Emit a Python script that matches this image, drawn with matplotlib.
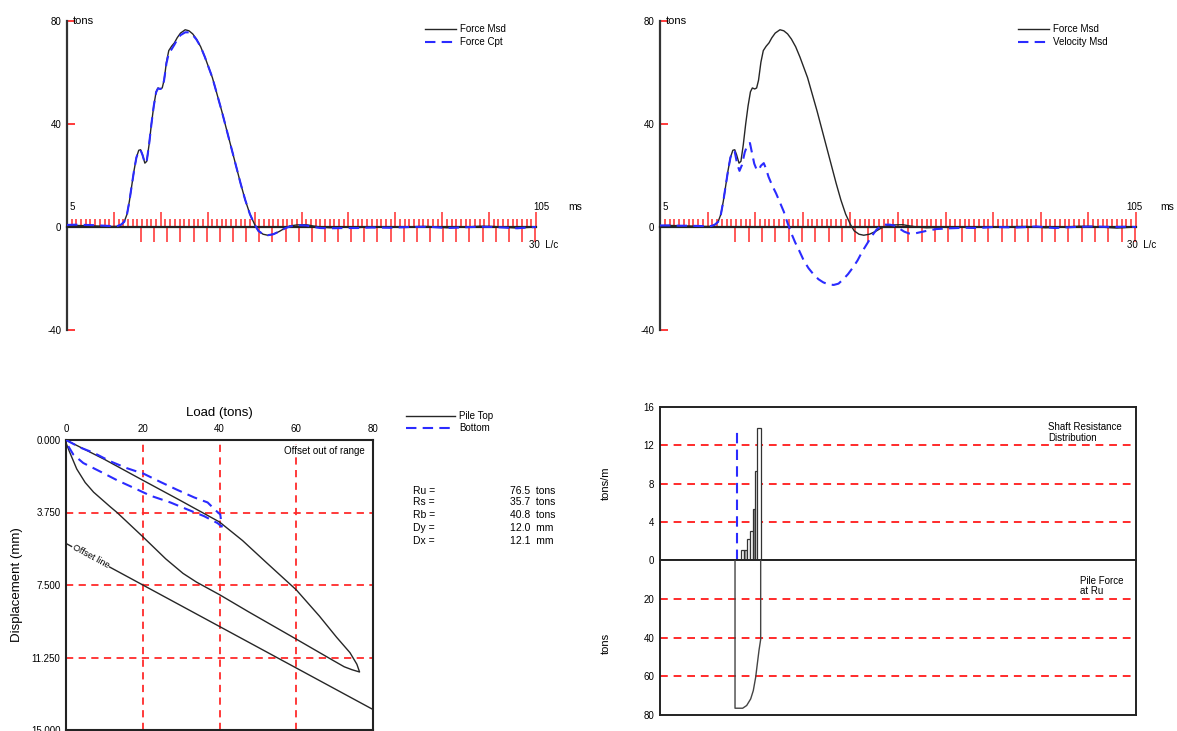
import matplotlib
matplotlib.use("Agg")
import numpy as np
import matplotlib.pyplot as plt
from matplotlib.lines import Line2D
from matplotlib.ticker import MultipleLocator, FixedLocator

plt.rcParams['font.family'] = ['Liberation Sans', 'DejaVu Sans']
plt.rcParams['font.size'] = 7
plt.rcParams['hatch.linewidth'] = 0.5
plt.rcParams['axes.unicode_minus'] = False

RED = '#ff2b2b'
BLUE = '#2b2bff'
BLACK = '#262626'
DASH = (0, (5, 3))

# ---- wave traces (ms, tons)
t_msd = [5, 7, 9, 11, 13, 15, 15.8, 16.5, 17.2, 17.8, 18.3, 18.8, 19.3, 19.8, 20.3, 20.7,
         21.1, 21.6, 22.0, 22.5, 23.0, 23.5, 24.0, 24.4, 24.9, 25.3, 25.7, 26.2, 26.7, 27.3,
         27.9, 28.5, 29.2, 30.2, 31.0, 31.8, 32.6, 33.5, 34.4, 35.2, 36.0, 37.0, 38.0, 39.0,
         40.0, 41.0, 42.0, 43.0, 44.0, 45.0, 45.8, 46.8, 47.8, 49.0, 50.2, 51.4, 52.5, 54.0,
         56.0, 57.5, 59.0, 61, 64, 67, 70, 74, 78, 82, 86, 90, 93, 96, 99, 101, 103, 105]
force_msd = [0.5, 0.6, 0.5, 0.4, 0.3, 0.2, 0.3, 0.8, 2, 5, 10, 16, 22, 27, 29.8, 30,
             28, 24.8, 25.5, 32, 40, 47, 52.5, 54, 53.6, 54, 57, 64, 68.5, 70.2,
             71.5, 73.5, 75.3, 76.6, 76.2, 75, 73, 70, 66, 62, 58, 51.5, 45, 38,
             31, 24, 17, 10.5, 5, 1, -1.5, -2.8, -3.2, -2.8, -1.8, -0.5, 0.4, 0.8,
             0.9, 0.4, 0, -0.3, -0.1, -0.2, 0, -0.1, 0.1, 0.2, -0.3, 0, 0.3, 0.2, -0.2, -0.4, -0.2, 0]
force_cpt = [0.8, 0.9, 0.8, 0.7, 0.5, 0.3, 0.4, 0.9, 2, 5, 10, 16, 22, 27, 29.6, 29.8,
             28, 24.8, 25.6, 32, 40, 47, 52.3, 53.8, 53.6, 54, 57, 63.5, 67.5, 69,
             70.8, 72.8, 74.5, 75.6, 75.6, 74.6, 72.8, 70, 66, 62, 58, 51.5, 45, 38,
             31, 24, 17, 10.5, 5, 1, -1.5, -2.8, -3.2, -2.8, -1.8, -0.6, 0.2, 0.7,
             0.6, 0, -0.4, -0.5, -0.4, -0.4, -0.2, -0.3, 0, 0.1, -0.4, -0.1, 0.1, 0, -0.3, -0.5, -0.2, 0]

t_vel = [5, 7, 9, 11, 13, 15, 15.8, 16.5, 17.2, 17.8, 18.3, 18.8, 19.3, 19.8, 20.3, 20.7,
         21.2, 21.7, 22.2, 22.8, 23.4, 23.9, 24.3, 24.8, 25.3, 25.7, 26.2, 26.8, 27.3, 27.8,
         28.6, 29.4, 30.2, 31.0, 31.8, 32.6, 33.4, 34.2, 35.2, 36.2, 37.3, 38.3, 39.3, 40.4,
         41.5, 42.5, 43.5, 44.5, 45.5, 46.5, 47.5, 48.5, 49.5, 50.5, 51.4, 52.3, 53.3, 54.3,
         55.3, 56.3, 57.3, 58.3, 59.5, 61, 63, 66, 69, 72, 75, 80, 84, 88, 92, 96, 100, 103, 105]
velocity_msd = [0.6, 0.6, 0.5, 0.5, 0.4, 0.3, 0.4, 0.9, 2, 5, 10, 16, 22, 27, 29.5, 29.3,
                24.5, 21.8, 24, 29, 32, 32.6, 29, 24.6, 22.3, 22, 23.8, 24.8, 22.5, 19.5,
                16, 13, 9.5, 6, 1.5, -2.5, -6, -9, -13, -16, -18.5, -20.3, -21.5, -22.3,
                -22.5, -22, -20.3, -18.3, -15.8, -13, -9.5, -6.5, -3.5, -1, 0.4, 0.9, 0.9, 0.5,
                -0.6, -1.8, -2.5, -2.6, -2.1, -1.5, -0.8, -0.5, -0.3, -0.4, 0, -0.2, 0.2, -0.4,
                0, 0.2, 0, 0.1, 0]

LC_START = 20.8   # ms at 0 L/c
LC_MS = 2.8       # ms per L/c
lc_ticks = list(range(0, 31))

# ---- simulated static test (tons, mm)
top_load = [0, 5, 10, 20, 30, 40, 46, 52, 60, 66, 70.5, 74, 75.8, 76.5, 74.5, 72.5, 69.5,
            60, 47.6, 40, 34, 30.5, 26, 20, 13.3, 11.5, 7.2, 5, 2.8, 1, 0]
top_disp = [0, 0.5, 1.0, 2.08, 3.15, 4.24, 5.2, 6.3, 7.75, 9.1, 10.2, 11.0, 11.6, 12.0, 11.88,
            11.73, 11.39, 10.3, 8.89, 8.0, 7.35, 6.9, 6.15, 5.0, 3.75, 3.45, 2.7, 2.2, 1.5,
            0.65, 0.15]
bot_load = [0, 3.7, 7.2, 11.5, 15.9, 20.3, 24.6, 29, 33.4, 36.9, 39, 40.2, 40.6, 39.5, 36,
            31.6, 27.2, 22, 17.6, 13.3, 8.9, 4.5, 1.9, 0]
bot_disp = [0, 0.39, 0.66, 1.1, 1.46, 1.75, 2.17, 2.58, 2.97, 3.23, 3.64, 3.85, 4.48, 4.3,
            3.94, 3.59, 3.23, 2.88, 2.47, 2.08, 1.63, 1.19, 0.75, 0.12]
offset_load = [0, 80]
offset_disp = [5.35, 13.94]

result_names = ['Ru =', 'Rs =', 'Rb =', 'Dy =', 'Dx =']
result_values = ['76.5  tons', '35.7  tons', '40.8  tons', '12.0  mm', '12.1  mm']

# ---- shaft resistance / pile force along pile
seg_edges = [15.76, 17.02, 17.72, 18.21, 18.91, 19.47, 20.03, 20.45, 21.15]
shaft_res = [0, 1.07, 1.07, 2.2, 3.0, 5.3, 9.3, 13.85]
force_depth = [15.76, 15.76, 17.37, 18.21, 19.05, 19.6, 20.1, 20.45, 20.8, 21.15, 21.15]
pile_force = [0, 76.5, 76.5, 75.1, 71.7, 67.4, 60.5, 53.5, 46.6, 41.0, 0]
toe_depth = 16.24
toe_top = 13.5

W, H = 1177, 731
fig = plt.figure(figsize=(W / 100, H / 100), dpi=100)


def rect(left, top, right, bottom):
    # pixel box -> figure fraction
    return [left / W, 1 - bottom / H, (right - left) / W, (bottom - top) / H]


def wave_axes(box, lines, x105, xms, xlc):
    ax = fig.add_axes(box)
    ax.set_xlim(5, 105)
    ax.set_ylim(-40, 80)
    for s in ['top', 'right']:
        ax.spines[s].set_visible(False)
    ax.spines['left'].set_linewidth(1.6)
    ax.spines['left'].set_color('#333333')
    ax.spines['bottom'].set_position(('data', 0))
    ax.spines['bottom'].set_linewidth(1.6)
    ax.spines['bottom'].set_color('#222222')
    ax.set_yticks([-40, 0, 40, 80])
    ax.tick_params(axis='y', direction='in', color=RED, length=6, width=1.3, labelsize=7, pad=4)
    ax.xaxis.set_major_locator(FixedLocator(range(15, 106, 10)))
    ax.xaxis.set_minor_locator(MultipleLocator(1))
    ax.tick_params(axis='x', which='major', direction='in', color=RED, length=11, width=1.1,
                   labelbottom=False)
    ax.tick_params(axis='x', which='minor', direction='in', color=RED, length=5.5, width=1.1)
    sec = ax.secondary_xaxis(1 / 3, functions=(lambda t: (np.asarray(t) - LC_START) / LC_MS,
                                               lambda n: np.asarray(n) * LC_MS + LC_START))
    sec.set_xticks(lc_ticks)
    sec.tick_params(direction='out', color=RED, length=10.5, width=1.1, labelbottom=False)
    sec.spines['bottom'].set_visible(False)

    ax.text(6.2, 80, 'tons', fontsize=8, va='center', ha='left')
    ax.text(5.6, 6, '5', fontsize=7, va='bottom', ha='left')
    ax.text(x105, 6, '105', fontsize=7, va='bottom', ha='center', clip_on=False)
    ax.text(xms, 6, 'ms', fontsize=7.5, va='bottom', ha='center', clip_on=False)
    ax.text(xlc, -7, '30  L/c', fontsize=7, va='center', ha='left', clip_on=False)

    for (t, v, style) in lines:
        if style == 'solid':
            ax.plot(t, v, color=BLACK, lw=1.0, zorder=3)
        else:
            ax.plot(t, v, color=BLUE, lw=1.5, ls=DASH, zorder=4)
    handles = [Line2D([], [], color=BLACK, lw=1.0),
               Line2D([], [], color=BLUE, lw=1.5, ls=DASH)]
    return ax, handles


# top left: force measured vs computed
ax1, h1 = wave_axes(rect(67, 21, 536, 330),
                    [(t_msd, force_msd, 'solid'), (t_msd, force_cpt, 'dash')],
                    106.1, 113.3, 103.6)
fig.legend(h1, ['Force Msd', 'Force Cpt'], loc='upper left',
           bbox_to_anchor=(425 / W, 1 - 24 / H), frameon=False, fontsize=7,
           handlelength=3.2, handletextpad=0.4, labelspacing=0.35, borderpad=0, borderaxespad=0)

# top right: force vs velocity
ax2, h2 = wave_axes(rect(660, 21, 1136, 330),
                    [(t_msd, force_msd, 'solid'), (t_vel, velocity_msd, 'dash')],
                    104.6, 111.6, 103.2)
fig.legend(h2, ['Force Msd', 'Velocity Msd'], loc='upper left',
           bbox_to_anchor=(1018 / W, 1 - 24 / H), frameon=False, fontsize=7,
           handlelength=3.2, handletextpad=0.4, labelspacing=0.35, borderpad=0, borderaxespad=0)

# bottom left: load - displacement
ax3 = fig.add_axes(rect(66, 440, 373, 730))
ax3.set_xlim(0, 80)
ax3.set_ylim(15, 0)
ax3.set_xticks([0, 20, 40, 60, 80])
ax3.set_yticks([0, 3.75, 7.5, 11.25, 15])
ax3.set_yticklabels(['%.3f' % v for v in [0, 3.75, 7.5, 11.25, 15]])
ax3.xaxis.tick_top()
ax3.xaxis.set_label_position('top')
ax3.tick_params(length=0, labelsize=7, pad=4)
ax3.set_xlabel('Load (tons)', fontsize=9.5, labelpad=6)
ax3.set_ylabel('Displacement (mm)', fontsize=9.5, labelpad=6)
for s in ax3.spines.values():
    s.set_linewidth(1.5)
    s.set_color('#222222')
ax3.grid(True, color=RED, ls=(0, (4, 3)), lw=1.3)
ax3.set_axisbelow(True)
ax3.plot(top_load, top_disp, color=BLACK, lw=1.0, zorder=3)
ax3.plot(bot_load, bot_disp, color=BLUE, lw=1.5, ls=DASH, zorder=4)
ax3.plot(offset_load, offset_disp, color=BLACK, lw=1.0, zorder=3)
ax3.text(6.5, 6.0, 'Offset line', fontsize=6.5, rotation=-28.4, rotation_mode='anchor',
         ha='center', va='center', zorder=5,
         bbox=dict(facecolor='white', edgecolor='none', pad=0.5))
ax3.text(77.8, 0.55, 'Offset out of range', fontsize=7, ha='right', va='center', zorder=5,
         bbox=dict(facecolor='white', edgecolor='none', pad=0.5))
h3 = [Line2D([], [], color=BLACK, lw=1.0), Line2D([], [], color=BLUE, lw=1.5, ls=DASH)]
fig.legend(h3, ['Pile Top', 'Bottom'], loc='upper left',
           bbox_to_anchor=(406 / W, 1 - 411 / H), frameon=False, fontsize=7,
           handlelength=5.0, handletextpad=0.5, labelspacing=0.2, borderpad=0, borderaxespad=0)

row_y = [491, 502, 515, 528, 541]
for name, val, y in zip(result_names, result_values, row_y):
    fig.text(413 / W, 1 - y / H, name, fontsize=7.5, va='center', ha='left')
    fig.text(510 / W, 1 - y / H, val, fontsize=7.5, va='center', ha='left')

# bottom right: shaft resistance and pile force
ax4 = fig.add_axes(rect(660, 407, 1136, 560))
ax5 = fig.add_axes(rect(660, 560, 1136, 715))
for a in (ax4, ax5):
    a.set_xlim(0, 100)
    a.set_xticks([])
    for s in a.spines.values():
        s.set_linewidth(1.4)
        s.set_color('#222222')
    a.tick_params(length=0, labelsize=7, pad=4)
ax4.set_ylim(0, 16)
ax4.set_yticks([0, 4, 8, 12, 16])
ax5.set_ylim(80, 0)
ax5.set_yticks([20, 40, 60, 80])
for y in [4, 8, 12]:
    ax4.axhline(y, color=RED, ls=(0, (4, 3)), lw=1.4, zorder=1)
for y in [20, 40, 60]:
    ax5.axhline(y, color=RED, ls=(0, (4, 3)), lw=1.4, zorder=1)
ax4.bar(seg_edges[:-1], shaft_res, width=np.diff(seg_edges), align='edge',
        facecolor='white', edgecolor='#333333', hatch='||', lw=0.9, zorder=3)
ax4.vlines(toe_depth, 0, toe_top, color=BLUE, lw=1.5, linestyles=DASH, zorder=4)
ax5.plot(force_depth, pile_force, color='#444444', lw=1.0, zorder=3)
ax4.text(0.815, 0.90, 'Shaft Resistance\nDistribution', transform=ax4.transAxes,
         fontsize=7, va='top', ha='left', linespacing=1.1)
ax5.text(0.883, 0.90, 'Pile Force\nat Ru', transform=ax5.transAxes,
         fontsize=7, va='top', ha='left', linespacing=1.1)
fig.text(606 / W, 1 - 483 / H, 'tons/m', fontsize=8, rotation=90, va='center', ha='center')
fig.text(606 / W, 1 - 643 / H, 'tons', fontsize=8, rotation=90, va='center', ha='center')

fig.savefig('out.png', dpi=100)
